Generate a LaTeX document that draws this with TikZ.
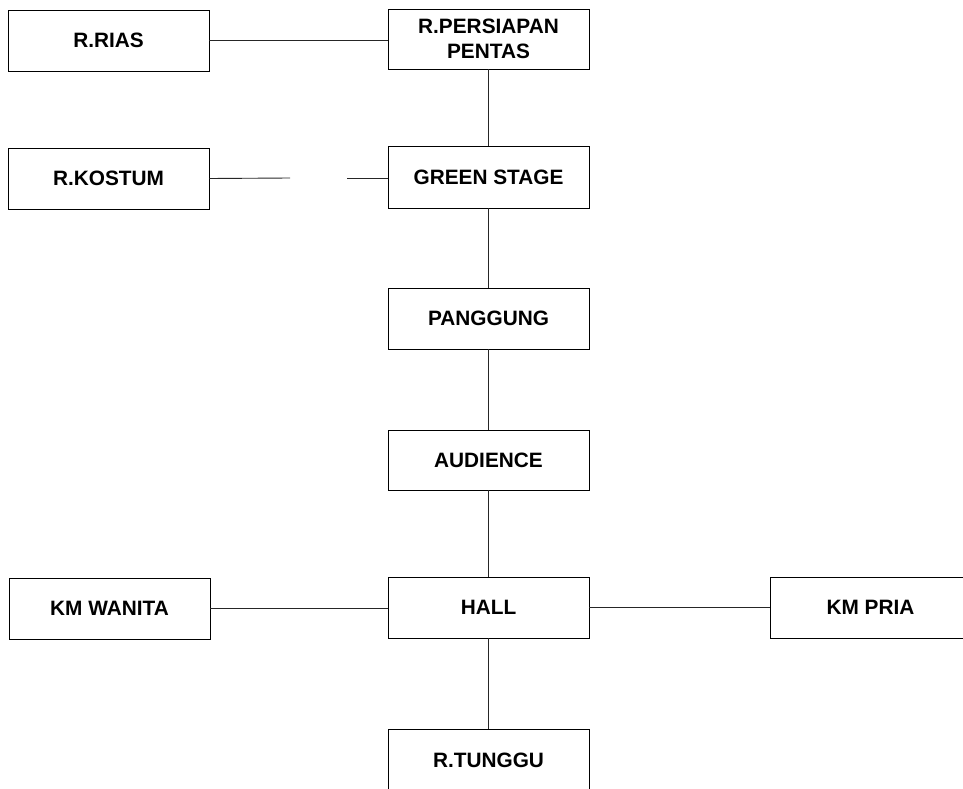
\documentclass[tikz,border=0pt]{standalone}
\usepackage{fontspec}
\setmainfont{Liberation Sans}
\begin{document}
\begin{tikzpicture}[x=1pt,y=-1pt,
  room/.style={draw=black, line width=0.9pt, minimum width=201pt, minimum height=61pt,
    inner sep=0pt, font=\fontsize{20.8}{25}\selectfont\bfseries, align=center, text=black},
  link/.style={draw=black!85, line width=0.9pt}]
\useasboundingbox (0,0) rectangle (963,789);
\node[room] (rias) at (108.5,40.5) {R.RIAS};
\node[room, minimum height=60pt] (pers) at (488.5,39) {R.PERSIAPAN\\PENTAS};
\node[room] (kostum) at (108.5,178.5) {R.KOSTUM};
\node[room, minimum height=62pt] (green) at (488.5,177) {GREEN STAGE};
\node[room] (panggung) at (488.5,318.5) {PANGGUNG};
\node[room, minimum height=60pt] (audience) at (488.5,460) {AUDIENCE};
\node[room] (hall) at (488.5,607.5) {HALL};
\node[room, minimum height=62pt] (tunggu) at (488.5,760) {R.TUNGGU};
\node[room] (wanita) at (109.5,608.5) {KM WANITA};
\node[room] (pria) at (870.5,607.5) {KM PRIA};
\coordinate (kg1) at (290,178);
\coordinate (kg2) at (347,178);
\draw[link] (rias.east) -- (pers.west |- rias.east);
\draw[link] (pers) -- (green);
\draw[link] (green) -- (panggung);
\draw[link] (panggung) -- (audience);
\draw[link] (audience) -- (hall);
\draw[link] (hall) -- (tunggu);
\draw[link] (wanita.east) -- (hall.west |- wanita.east);
\draw[link] (hall) -- (pria);
\draw[link] (kostum.east) -- (kg1);
\draw[link] (kg2) -- (green.west |- kg2);
\end{tikzpicture}
\end{document}
